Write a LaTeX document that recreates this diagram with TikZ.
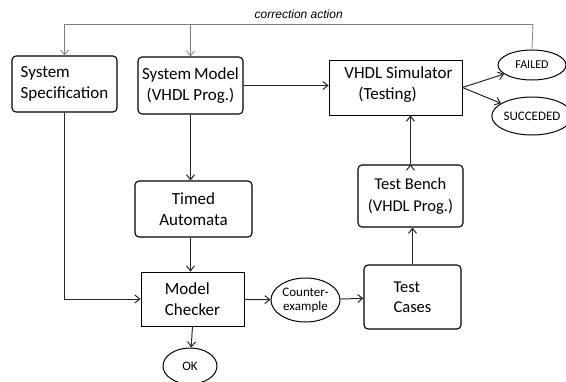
\documentclass[tikz,border=0pt]{standalone}
\usepackage{fontspec}
\setmainfont{Carlito}
\newfontfamily\arialfont{Liberation Sans}
\usepackage{tikz}
\usetikzlibrary{shapes, arrows.meta, positioning}
\definecolor{linegray}{rgb}{0.15,0.15,0.15}
\tikzstyle{->}   = [draw, line width=1pt, color=linegray, -{Straight Barb[length=5pt, width=8pt]}]
\tikzstyle{-}    = [draw, line width=1pt, color=linegray]
\tikzstyle{rbox} = [draw, line width=1.1pt, rounded corners=4pt, align=center, inner sep=0pt, font=\fontsize{17}{21}\selectfont]
\tikzstyle{sbox} = [rbox, sharp corners, line width=0.8pt]
\tikzstyle{o}    = [draw, ellipse, line width=1pt, inner sep=0pt, align=center, font=\fontsize{13}{14}\selectfont]

\begin{document}
\begin{tikzpicture}[x=1pt, y=-1pt]
\useasboundingbox (0,0) rectangle (566,381);

% nodes
\node [rbox, minimum width=105pt, minimum height=56pt, align=left] at ( 64.5,  84  ) (spec)    {System\\Specification};
\node [rbox, minimum width=105pt, minimum height=57pt]             at (190.5,  85.5) (model)   {System\,Model\\(VHDL Prog.)};
\node [sbox, minimum width=133pt, minimum height=55pt]             at (395.5,  87.5) (sim)     {};
\node [align=left, font=\fontsize{17}{21}\selectfont]              at (398.5,  85  ) (simtext) {VHDL Simulator\\\hspace*{14pt}(Testing)};
\node [o, minimum width=68pt, minimum height=30pt, font=\fontsize{12}{14}\selectfont] at (532, 65) (failed) {FAILED};
\node [o, minimum width=68pt, minimum height=38pt]                 at (532  , 116  ) (succ)    {SUCCEDED};
\node [rbox, minimum width=117pt, minimum height=56pt]             at (193.5, 209  ) (timed)   {Timed\\Automata};
\node [rbox, minimum width=105pt, minimum height=62pt, font=\fontsize{16.5}{22}\selectfont] at (410.5, 196) (bench) {Test Bench\\(VHDL Prog.)};
\node [sbox, minimum width=103pt, minimum height=54pt, align=left] at (192.5, 299  ) (checker) {Model\\Checker};
\node [o, minimum width=69pt, minimum height=44pt]                 at (305.5, 300  ) (counter) {Counter-\\example};
\node [rbox, minimum width=97pt, minimum height=64pt, align=left, font=\fontsize{16.5}{20}\selectfont] at (412.5, 297) (cases) {Test\\Cases};
\node [o, minimum width=54pt, minimum height=36pt]                 at (190  , 366  ) (ok)      {OK};
\coordinate (back) at (533, 24);

%  edges
\path [-, color=gray, line width=0.8pt] (failed.north) -- (back);
\draw [->, color=gray, line width=0.8pt] (back) -| node [pos=0.25, above=2pt, text=black, font=\arialfont\itshape\fontsize{12}{14}\selectfont] {correction action} (spec.north);
\draw [->, color=gray, line width=0.8pt] (model.north |- back) -- (model.north);
\path [->] (model.east)  edge (model.east -| sim.west)
           (sim.east)    edge (failed)
           (sim.east)    edge (succ)
           (model.south) edge (model.south |- timed.north)
           (model.south |- timed.south) edge (model.south |- checker.north)
           (checker.south) edge (ok)
           (checker)     edge (counter)
           (counter)     edge (cases)
           (cases.north) edge (cases.north |- bench.south)
           (bench.north) edge (bench.north |- sim.south);
\draw [->] (spec.south) |- (checker.west);

\end{tikzpicture}
\end{document}
